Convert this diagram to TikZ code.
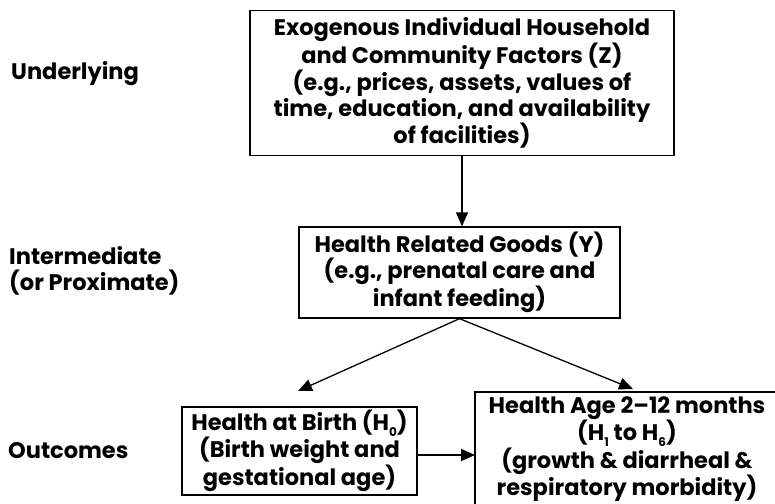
\documentclass[tikz,border=0pt]{standalone}
\usepackage{fontspec}
\setmainfont{Poppins}
\usetikzlibrary{arrows.meta}
\newcommand{\sbs}[1]{\raisebox{-0.45ex}{\fontsize{12}{12}\selectfont #1}}
\begin{document}
\begin{tikzpicture}[x=1pt,y=-1pt,
  txt/.style={font=\fontsize{22.5}{25.8}\selectfont\bfseries, align=center, inner sep=0pt},
  box/.style={txt, draw, line width=1.3pt},
  arr/.style={-{Triangle[length=14pt,width=12pt]}, line width=1.3pt}]
\useasboundingbox (0,0) rectangle (775,503);
% left labels
\node[txt, anchor=base west] (lu) at (11,79) {Underlying};
\node[txt, anchor=west, align=left] (li) at (9,271) {Intermediate\\(or Proximate)};
\node[txt, anchor=base west] (lo) at (8,458) {Outcomes};
% boxes
\node[box, minimum width=424, minimum height=145] (z) at (462,83)
  {Exogenous Individual Household\\and Community Factors (Z)\\(e.g., prices, assets, values of\\time, education, and availability\\of facilities)};
\node[box, minimum width=321, minimum height=91] (y) at (459.5,272.5)
  {Health Related Goods (Y)\\(e.g., prenatal care and\\infant feeding)};
\node[box, minimum width=235, minimum height=88] (h0) at (299.5,451)
  {Health at Birth (H\sbs{0})\\(Birth weight and\\gestational age)};
\node[txt] (h1) at (627,449)
  {Health Age 2–12 months\\(H\sbs{1} to H\sbs{6})\\(growth \& diarrheal \&\\respiratory morbidity)};
\draw[line width=1.3pt] (475,392) rectangle (790,520);
% connectors
\coordinate (hl) at (298,391);
\coordinate (hr) at (633,389);
\coordinate (brw) at (475,455);
\draw[arr] (z.south) -- (z.south |- y.north);
\draw[arr] (y.south) -- (hl);
\draw[arr] (y.south) -- (hr);
\draw[arr] (h0.east |- brw) -- (brw);
\end{tikzpicture}
\end{document}
